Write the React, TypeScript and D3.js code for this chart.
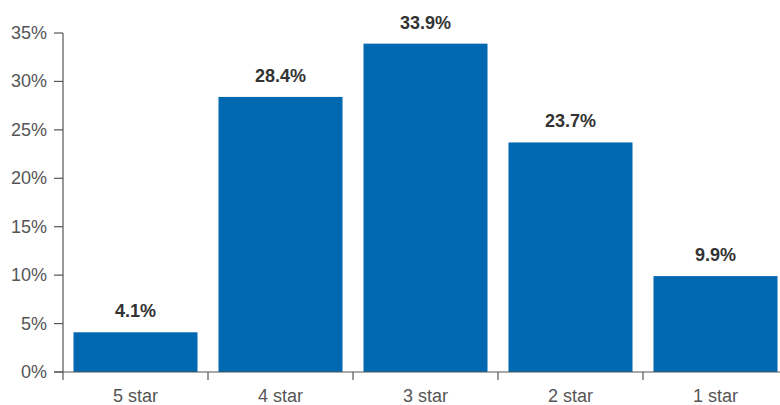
import React from "react";
import * as d3 from "d3";

const categories = ["5 star", "4 star", "3 star", "2 star", "1 star"];
const values = [4.1, 28.4, 33.9, 23.7, 9.9];
const yTicks = [0, 5, 10, 15, 20, 25, 30, 35];

const W = 780;
const H = 405;
const x0 = 63;
const band = 145;
const yTop = 33;
const yBase = 372;

export default function App() {
  const x = d3
    .scaleBand<string>()
    .domain(categories)
    .range([x0, x0 + band * categories.length])
    .paddingInner(21 / 145)
    .paddingOuter(10.5 / 145);
  const y = d3.scaleLinear().domain([0, 35]).range([yBase, yTop]);
  const font = "'Liberation Sans', Arial, Helvetica, sans-serif";
  const boundaries = d3.range(categories.length + 1).map((i) => x0 + i * band);

  return (
    <div style={{ position: "fixed", left: 0, top: 0 }}>
      <svg width={W} height={H} style={{ display: "block", background: "#fff" }} fontFamily={font}>
        {values.map((v, i) => (
          <rect
            key={categories[i]}
            x={x(categories[i])}
            y={y(v)}
            width={x.bandwidth()}
            height={y(0) - y(v)}
            fill="#0067b1"
          />
        ))}
        {values.map((v, i) => (
          <text
            key={"l" + i}
            x={(x(categories[i]) as number) + x.bandwidth() / 2}
            y={y(v) - 15}
            textAnchor="middle"
            fontSize={18}
            fontWeight="bold"
            fill="#333"
          >
            {v.toFixed(1) + "%"}
          </text>
        ))}
        {/* y axis */}
        <line x1={x0} x2={x0} y1={y(35)} y2={yBase + 8} stroke="#555" strokeWidth={1.2} />
        {yTicks.map((t) => (
          <g key={t}>
            <line x1={x0 - 9} x2={x0} y1={y(t)} y2={y(t)} stroke="#555" strokeWidth={1.2} />
            <text x={x0 - 16} y={y(t) + 6} textAnchor="end" fontSize={18} fill="#555">
              {t + "%"}
            </text>
          </g>
        ))}
        {/* x axis */}
        <line x1={x0 - 9} x2={W} y1={yBase} y2={yBase} stroke="#555" strokeWidth={1.2} />
        {boundaries.slice(1).map((b, i) => (
          <line key={"b" + i} x1={b} x2={b} y1={yBase} y2={yBase + 8} stroke="#555" strokeWidth={1.2} />
        ))}
        {categories.map((c) => (
          <text
            key={c}
            x={(x(c) as number) + x.bandwidth() / 2}
            y={402}
            textAnchor="middle"
            fontSize={18}
            fill="#555"
          >
            {c}
          </text>
        ))}
      </svg>
    </div>
  );
}
